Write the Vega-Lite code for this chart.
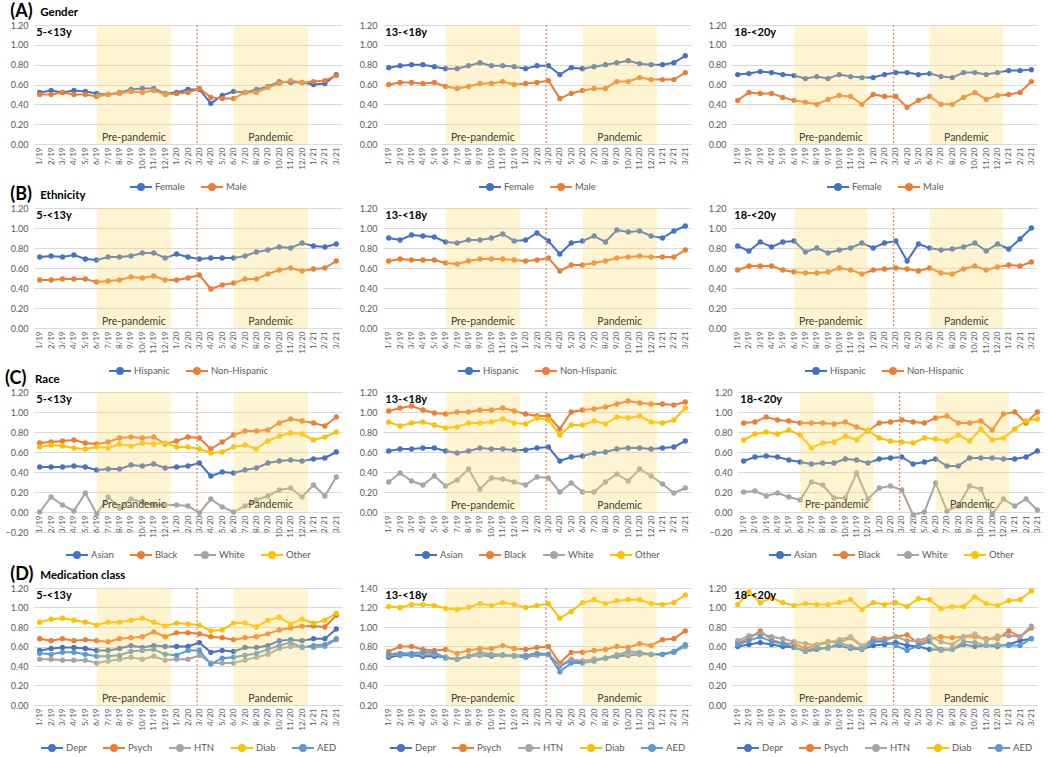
{
"$schema":"https://vega.github.io/schema/vega-lite/v6.json",
"padding":{"left":4,"top":2,"right":4,"bottom":2},
"background":"white",
"datasets":{
"shade":[{"a":5,"b":11.5,"lab":"Pre-pandemic"},{"a":17,"b":23.5,"lab":"Pandemic"}],
"A1":[
{"t":0,"s":"Female","v":0.52},{"t":1,"s":"Female","v":0.54},{"t":2,"s":"Female","v":0.52},{"t":3,"s":"Female","v":0.54},{"t":4,"s":"Female","v":0.53},{"t":5,"s":"Female","v":0.51},{"t":6,"s":"Female","v":0.50},{"t":7,"s":"Female","v":0.52},{"t":8,"s":"Female","v":0.55},{"t":9,"s":"Female","v":0.56},{"t":10,"s":"Female","v":0.56},{"t":11,"s":"Female","v":0.51},{"t":12,"s":"Female","v":0.52},{"t":13,"s":"Female","v":0.55},{"t":14,"s":"Female","v":0.55},{"t":15,"s":"Female","v":0.41},{"t":16,"s":"Female","v":0.49},{"t":17,"s":"Female","v":0.53},{"t":18,"s":"Female","v":0.52},{"t":19,"s":"Female","v":0.55},{"t":20,"s":"Female","v":0.58},{"t":21,"s":"Female","v":0.63},{"t":22,"s":"Female","v":0.62},{"t":23,"s":"Female","v":0.62},{"t":24,"s":"Female","v":0.60},{"t":25,"s":"Female","v":0.61},{"t":26,"s":"Female","v":0.70},
{"t":0,"s":"Male","v":0.50},{"t":1,"s":"Male","v":0.50},{"t":2,"s":"Male","v":0.52},{"t":3,"s":"Male","v":0.50},{"t":4,"s":"Male","v":0.50},{"t":5,"s":"Male","v":0.48},{"t":6,"s":"Male","v":0.50},{"t":7,"s":"Male","v":0.51},{"t":8,"s":"Male","v":0.53},{"t":9,"s":"Male","v":0.52},{"t":10,"s":"Male","v":0.54},{"t":11,"s":"Male","v":0.50},{"t":12,"s":"Male","v":0.51},{"t":13,"s":"Male","v":0.52},{"t":14,"s":"Male","v":0.56},{"t":15,"s":"Male","v":0.47},{"t":16,"s":"Male","v":0.46},{"t":17,"s":"Male","v":0.46},{"t":18,"s":"Male","v":0.52},{"t":19,"s":"Male","v":0.52},{"t":20,"s":"Male","v":0.57},{"t":21,"s":"Male","v":0.61},{"t":22,"s":"Male","v":0.64},{"t":23,"s":"Male","v":0.62},{"t":24,"s":"Male","v":0.63},{"t":25,"s":"Male","v":0.64},{"t":26,"s":"Male","v":0.69}],
"A2":[
{"t":0,"s":"Female","v":0.77},{"t":1,"s":"Female","v":0.79},{"t":2,"s":"Female","v":0.80},{"t":3,"s":"Female","v":0.80},{"t":4,"s":"Female","v":0.78},{"t":5,"s":"Female","v":0.76},{"t":6,"s":"Female","v":0.76},{"t":7,"s":"Female","v":0.79},{"t":8,"s":"Female","v":0.82},{"t":9,"s":"Female","v":0.79},{"t":10,"s":"Female","v":0.79},{"t":11,"s":"Female","v":0.78},{"t":12,"s":"Female","v":0.76},{"t":13,"s":"Female","v":0.79},{"t":14,"s":"Female","v":0.79},{"t":15,"s":"Female","v":0.70},{"t":16,"s":"Female","v":0.77},{"t":17,"s":"Female","v":0.76},{"t":18,"s":"Female","v":0.78},{"t":19,"s":"Female","v":0.80},{"t":20,"s":"Female","v":0.82},{"t":21,"s":"Female","v":0.84},{"t":22,"s":"Female","v":0.81},{"t":23,"s":"Female","v":0.80},{"t":24,"s":"Female","v":0.80},{"t":25,"s":"Female","v":0.82},{"t":26,"s":"Female","v":0.89},
{"t":0,"s":"Male","v":0.60},{"t":1,"s":"Male","v":0.62},{"t":2,"s":"Male","v":0.62},{"t":3,"s":"Male","v":0.61},{"t":4,"s":"Male","v":0.62},{"t":5,"s":"Male","v":0.58},{"t":6,"s":"Male","v":0.56},{"t":7,"s":"Male","v":0.58},{"t":8,"s":"Male","v":0.61},{"t":9,"s":"Male","v":0.61},{"t":10,"s":"Male","v":0.63},{"t":11,"s":"Male","v":0.60},{"t":12,"s":"Male","v":0.61},{"t":13,"s":"Male","v":0.62},{"t":14,"s":"Male","v":0.64},{"t":15,"s":"Male","v":0.46},{"t":16,"s":"Male","v":0.51},{"t":17,"s":"Male","v":0.54},{"t":18,"s":"Male","v":0.56},{"t":19,"s":"Male","v":0.56},{"t":20,"s":"Male","v":0.63},{"t":21,"s":"Male","v":0.63},{"t":22,"s":"Male","v":0.67},{"t":23,"s":"Male","v":0.65},{"t":24,"s":"Male","v":0.65},{"t":25,"s":"Male","v":0.65},{"t":26,"s":"Male","v":0.72}],
"A3":[
{"t":0,"s":"Female","v":0.70},{"t":1,"s":"Female","v":0.71},{"t":2,"s":"Female","v":0.73},{"t":3,"s":"Female","v":0.72},{"t":4,"s":"Female","v":0.70},{"t":5,"s":"Female","v":0.69},{"t":6,"s":"Female","v":0.66},{"t":7,"s":"Female","v":0.68},{"t":8,"s":"Female","v":0.66},{"t":9,"s":"Female","v":0.70},{"t":10,"s":"Female","v":0.68},{"t":11,"s":"Female","v":0.67},{"t":12,"s":"Female","v":0.67},{"t":13,"s":"Female","v":0.70},{"t":14,"s":"Female","v":0.72},{"t":15,"s":"Female","v":0.72},{"t":16,"s":"Female","v":0.70},{"t":17,"s":"Female","v":0.71},{"t":18,"s":"Female","v":0.68},{"t":19,"s":"Female","v":0.67},{"t":20,"s":"Female","v":0.72},{"t":21,"s":"Female","v":0.72},{"t":22,"s":"Female","v":0.70},{"t":23,"s":"Female","v":0.72},{"t":24,"s":"Female","v":0.74},{"t":25,"s":"Female","v":0.74},{"t":26,"s":"Female","v":0.75},
{"t":0,"s":"Male","v":0.44},{"t":1,"s":"Male","v":0.52},{"t":2,"s":"Male","v":0.51},{"t":3,"s":"Male","v":0.51},{"t":4,"s":"Male","v":0.47},{"t":5,"s":"Male","v":0.44},{"t":6,"s":"Male","v":0.42},{"t":7,"s":"Male","v":0.40},{"t":8,"s":"Male","v":0.45},{"t":9,"s":"Male","v":0.49},{"t":10,"s":"Male","v":0.48},{"t":11,"s":"Male","v":0.40},{"t":12,"s":"Male","v":0.50},{"t":13,"s":"Male","v":0.48},{"t":14,"s":"Male","v":0.48},{"t":15,"s":"Male","v":0.37},{"t":16,"s":"Male","v":0.44},{"t":17,"s":"Male","v":0.48},{"t":18,"s":"Male","v":0.40},{"t":19,"s":"Male","v":0.40},{"t":20,"s":"Male","v":0.47},{"t":21,"s":"Male","v":0.52},{"t":22,"s":"Male","v":0.45},{"t":23,"s":"Male","v":0.49},{"t":24,"s":"Male","v":0.50},{"t":25,"s":"Male","v":0.52},{"t":26,"s":"Male","v":0.63}],
"B1":[
{"t":0,"s":"Hispanic","v":0.71},{"t":1,"s":"Hispanic","v":0.72},{"t":2,"s":"Hispanic","v":0.71},{"t":3,"s":"Hispanic","v":0.73},{"t":4,"s":"Hispanic","v":0.69},{"t":5,"s":"Hispanic","v":0.68},{"t":6,"s":"Hispanic","v":0.71},{"t":7,"s":"Hispanic","v":0.71},{"t":8,"s":"Hispanic","v":0.72},{"t":9,"s":"Hispanic","v":0.75},{"t":10,"s":"Hispanic","v":0.75},{"t":11,"s":"Hispanic","v":0.70},{"t":12,"s":"Hispanic","v":0.74},{"t":13,"s":"Hispanic","v":0.71},{"t":14,"s":"Hispanic","v":0.69},{"t":15,"s":"Hispanic","v":0.70},{"t":16,"s":"Hispanic","v":0.70},{"t":17,"s":"Hispanic","v":0.70},{"t":18,"s":"Hispanic","v":0.72},{"t":19,"s":"Hispanic","v":0.76},{"t":20,"s":"Hispanic","v":0.78},{"t":21,"s":"Hispanic","v":0.81},{"t":22,"s":"Hispanic","v":0.80},{"t":23,"s":"Hispanic","v":0.85},{"t":24,"s":"Hispanic","v":0.82},{"t":25,"s":"Hispanic","v":0.81},{"t":26,"s":"Hispanic","v":0.84},
{"t":0,"s":"Non-Hispanic","v":0.48},{"t":1,"s":"Non-Hispanic","v":0.48},{"t":2,"s":"Non-Hispanic","v":0.49},{"t":3,"s":"Non-Hispanic","v":0.49},{"t":4,"s":"Non-Hispanic","v":0.49},{"t":5,"s":"Non-Hispanic","v":0.46},{"t":6,"s":"Non-Hispanic","v":0.47},{"t":7,"s":"Non-Hispanic","v":0.48},{"t":8,"s":"Non-Hispanic","v":0.51},{"t":9,"s":"Non-Hispanic","v":0.50},{"t":10,"s":"Non-Hispanic","v":0.52},{"t":11,"s":"Non-Hispanic","v":0.48},{"t":12,"s":"Non-Hispanic","v":0.48},{"t":13,"s":"Non-Hispanic","v":0.50},{"t":14,"s":"Non-Hispanic","v":0.53},{"t":15,"s":"Non-Hispanic","v":0.39},{"t":16,"s":"Non-Hispanic","v":0.43},{"t":17,"s":"Non-Hispanic","v":0.45},{"t":18,"s":"Non-Hispanic","v":0.49},{"t":19,"s":"Non-Hispanic","v":0.49},{"t":20,"s":"Non-Hispanic","v":0.54},{"t":21,"s":"Non-Hispanic","v":0.58},{"t":22,"s":"Non-Hispanic","v":0.60},{"t":23,"s":"Non-Hispanic","v":0.57},{"t":24,"s":"Non-Hispanic","v":0.59},{"t":25,"s":"Non-Hispanic","v":0.60},{"t":26,"s":"Non-Hispanic","v":0.67}],
"B2":[
{"t":0,"s":"Hispanic","v":0.90},{"t":1,"s":"Hispanic","v":0.88},{"t":2,"s":"Hispanic","v":0.93},{"t":3,"s":"Hispanic","v":0.92},{"t":4,"s":"Hispanic","v":0.91},{"t":5,"s":"Hispanic","v":0.86},{"t":6,"s":"Hispanic","v":0.85},{"t":7,"s":"Hispanic","v":0.88},{"t":8,"s":"Hispanic","v":0.88},{"t":9,"s":"Hispanic","v":0.90},{"t":10,"s":"Hispanic","v":0.94},{"t":11,"s":"Hispanic","v":0.87},{"t":12,"s":"Hispanic","v":0.88},{"t":13,"s":"Hispanic","v":0.95},{"t":14,"s":"Hispanic","v":0.87},{"t":15,"s":"Hispanic","v":0.74},{"t":16,"s":"Hispanic","v":0.85},{"t":17,"s":"Hispanic","v":0.87},{"t":18,"s":"Hispanic","v":0.92},{"t":19,"s":"Hispanic","v":0.86},{"t":20,"s":"Hispanic","v":0.98},{"t":21,"s":"Hispanic","v":0.96},{"t":22,"s":"Hispanic","v":0.97},{"t":23,"s":"Hispanic","v":0.92},{"t":24,"s":"Hispanic","v":0.90},{"t":25,"s":"Hispanic","v":0.97},{"t":26,"s":"Hispanic","v":1.02},
{"t":0,"s":"Non-Hispanic","v":0.67},{"t":1,"s":"Non-Hispanic","v":0.69},{"t":2,"s":"Non-Hispanic","v":0.68},{"t":3,"s":"Non-Hispanic","v":0.68},{"t":4,"s":"Non-Hispanic","v":0.68},{"t":5,"s":"Non-Hispanic","v":0.65},{"t":6,"s":"Non-Hispanic","v":0.64},{"t":7,"s":"Non-Hispanic","v":0.67},{"t":8,"s":"Non-Hispanic","v":0.69},{"t":9,"s":"Non-Hispanic","v":0.69},{"t":10,"s":"Non-Hispanic","v":0.69},{"t":11,"s":"Non-Hispanic","v":0.68},{"t":12,"s":"Non-Hispanic","v":0.67},{"t":13,"s":"Non-Hispanic","v":0.68},{"t":14,"s":"Non-Hispanic","v":0.70},{"t":15,"s":"Non-Hispanic","v":0.57},{"t":16,"s":"Non-Hispanic","v":0.63},{"t":17,"s":"Non-Hispanic","v":0.63},{"t":18,"s":"Non-Hispanic","v":0.65},{"t":19,"s":"Non-Hispanic","v":0.67},{"t":20,"s":"Non-Hispanic","v":0.70},{"t":21,"s":"Non-Hispanic","v":0.71},{"t":22,"s":"Non-Hispanic","v":0.72},{"t":23,"s":"Non-Hispanic","v":0.71},{"t":24,"s":"Non-Hispanic","v":0.71},{"t":25,"s":"Non-Hispanic","v":0.71},{"t":26,"s":"Non-Hispanic","v":0.78}],
"B3":[
{"t":0,"s":"Hispanic","v":0.82},{"t":1,"s":"Hispanic","v":0.77},{"t":2,"s":"Hispanic","v":0.86},{"t":3,"s":"Hispanic","v":0.81},{"t":4,"s":"Hispanic","v":0.86},{"t":5,"s":"Hispanic","v":0.87},{"t":6,"s":"Hispanic","v":0.76},{"t":7,"s":"Hispanic","v":0.80},{"t":8,"s":"Hispanic","v":0.75},{"t":9,"s":"Hispanic","v":0.78},{"t":10,"s":"Hispanic","v":0.80},{"t":11,"s":"Hispanic","v":0.85},{"t":12,"s":"Hispanic","v":0.80},{"t":13,"s":"Hispanic","v":0.85},{"t":14,"s":"Hispanic","v":0.87},{"t":15,"s":"Hispanic","v":0.67},{"t":16,"s":"Hispanic","v":0.84},{"t":17,"s":"Hispanic","v":0.80},{"t":18,"s":"Hispanic","v":0.78},{"t":19,"s":"Hispanic","v":0.79},{"t":20,"s":"Hispanic","v":0.81},{"t":21,"s":"Hispanic","v":0.85},{"t":22,"s":"Hispanic","v":0.77},{"t":23,"s":"Hispanic","v":0.84},{"t":24,"s":"Hispanic","v":0.79},{"t":25,"s":"Hispanic","v":0.89},{"t":26,"s":"Hispanic","v":1.00},
{"t":0,"s":"Non-Hispanic","v":0.58},{"t":1,"s":"Non-Hispanic","v":0.62},{"t":2,"s":"Non-Hispanic","v":0.62},{"t":3,"s":"Non-Hispanic","v":0.62},{"t":4,"s":"Non-Hispanic","v":0.58},{"t":5,"s":"Non-Hispanic","v":0.56},{"t":6,"s":"Non-Hispanic","v":0.55},{"t":7,"s":"Non-Hispanic","v":0.55},{"t":8,"s":"Non-Hispanic","v":0.56},{"t":9,"s":"Non-Hispanic","v":0.60},{"t":10,"s":"Non-Hispanic","v":0.58},{"t":11,"s":"Non-Hispanic","v":0.54},{"t":12,"s":"Non-Hispanic","v":0.58},{"t":13,"s":"Non-Hispanic","v":0.59},{"t":14,"s":"Non-Hispanic","v":0.60},{"t":15,"s":"Non-Hispanic","v":0.59},{"t":16,"s":"Non-Hispanic","v":0.57},{"t":17,"s":"Non-Hispanic","v":0.60},{"t":18,"s":"Non-Hispanic","v":0.55},{"t":19,"s":"Non-Hispanic","v":0.54},{"t":20,"s":"Non-Hispanic","v":0.59},{"t":21,"s":"Non-Hispanic","v":0.62},{"t":22,"s":"Non-Hispanic","v":0.58},{"t":23,"s":"Non-Hispanic","v":0.61},{"t":24,"s":"Non-Hispanic","v":0.63},{"t":25,"s":"Non-Hispanic","v":0.62},{"t":26,"s":"Non-Hispanic","v":0.66}],
"C1":[
{"t":0,"s":"Asian","v":0.45},{"t":1,"s":"Asian","v":0.45},{"t":2,"s":"Asian","v":0.45},{"t":3,"s":"Asian","v":0.46},{"t":4,"s":"Asian","v":0.45},{"t":5,"s":"Asian","v":0.42},{"t":6,"s":"Asian","v":0.43},{"t":7,"s":"Asian","v":0.43},{"t":8,"s":"Asian","v":0.47},{"t":9,"s":"Asian","v":0.46},{"t":10,"s":"Asian","v":0.48},{"t":11,"s":"Asian","v":0.44},{"t":12,"s":"Asian","v":0.45},{"t":13,"s":"Asian","v":0.46},{"t":14,"s":"Asian","v":0.49},{"t":15,"s":"Asian","v":0.36},{"t":16,"s":"Asian","v":0.40},{"t":17,"s":"Asian","v":0.39},{"t":18,"s":"Asian","v":0.42},{"t":19,"s":"Asian","v":0.44},{"t":20,"s":"Asian","v":0.49},{"t":21,"s":"Asian","v":0.51},{"t":22,"s":"Asian","v":0.52},{"t":23,"s":"Asian","v":0.51},{"t":24,"s":"Asian","v":0.53},{"t":25,"s":"Asian","v":0.54},{"t":26,"s":"Asian","v":0.60},
{"t":0,"s":"Black","v":0.69},{"t":1,"s":"Black","v":0.70},{"t":2,"s":"Black","v":0.71},{"t":3,"s":"Black","v":0.72},{"t":4,"s":"Black","v":0.69},{"t":5,"s":"Black","v":0.68},{"t":6,"s":"Black","v":0.70},{"t":7,"s":"Black","v":0.74},{"t":8,"s":"Black","v":0.75},{"t":9,"s":"Black","v":0.74},{"t":10,"s":"Black","v":0.75},{"t":11,"s":"Black","v":0.68},{"t":12,"s":"Black","v":0.71},{"t":13,"s":"Black","v":0.75},{"t":14,"s":"Black","v":0.74},{"t":15,"s":"Black","v":0.63},{"t":16,"s":"Black","v":0.70},{"t":17,"s":"Black","v":0.77},{"t":18,"s":"Black","v":0.81},{"t":19,"s":"Black","v":0.81},{"t":20,"s":"Black","v":0.82},{"t":21,"s":"Black","v":0.89},{"t":22,"s":"Black","v":0.93},{"t":23,"s":"Black","v":0.91},{"t":24,"s":"Black","v":0.89},{"t":25,"s":"Black","v":0.86},{"t":26,"s":"Black","v":0.95},
{"t":0,"s":"White","v":0.00},{"t":1,"s":"White","v":0.15},{"t":2,"s":"White","v":0.07},{"t":3,"s":"White","v":0.01},{"t":4,"s":"White","v":0.19},{"t":5,"s":"White","v":-0.02},{"t":6,"s":"White","v":0.15},{"t":7,"s":"White","v":0.04},{"t":8,"s":"White","v":0.13},{"t":9,"s":"White","v":0.10},{"t":10,"s":"White","v":0.07},{"t":11,"s":"White","v":0.07},{"t":12,"s":"White","v":0.07},{"t":13,"s":"White","v":0.06},{"t":14,"s":"White","v":-0.01},{"t":15,"s":"White","v":0.13},{"t":16,"s":"White","v":0.05},{"t":17,"s":"White","v":0.00},{"t":18,"s":"White","v":0.06},{"t":19,"s":"White","v":0.12},{"t":20,"s":"White","v":0.16},{"t":21,"s":"White","v":0.22},{"t":22,"s":"White","v":0.24},{"t":23,"s":"White","v":0.15},{"t":24,"s":"White","v":0.27},{"t":25,"s":"White","v":0.16},{"t":26,"s":"White","v":0.35},
{"t":0,"s":"Other","v":0.65},{"t":1,"s":"Other","v":0.67},{"t":2,"s":"Other","v":0.66},{"t":3,"s":"Other","v":0.64},{"t":4,"s":"Other","v":0.63},{"t":5,"s":"Other","v":0.65},{"t":6,"s":"Other","v":0.64},{"t":7,"s":"Other","v":0.68},{"t":8,"s":"Other","v":0.66},{"t":9,"s":"Other","v":0.69},{"t":10,"s":"Other","v":0.68},{"t":11,"s":"Other","v":0.69},{"t":12,"s":"Other","v":0.65},{"t":13,"s":"Other","v":0.65},{"t":14,"s":"Other","v":0.63},{"t":15,"s":"Other","v":0.59},{"t":16,"s":"Other","v":0.60},{"t":17,"s":"Other","v":0.65},{"t":18,"s":"Other","v":0.67},{"t":19,"s":"Other","v":0.63},{"t":20,"s":"Other","v":0.71},{"t":21,"s":"Other","v":0.76},{"t":22,"s":"Other","v":0.79},{"t":23,"s":"Other","v":0.78},{"t":24,"s":"Other","v":0.72},{"t":25,"s":"Other","v":0.75},{"t":26,"s":"Other","v":0.80}],
"C2":[
{"t":0,"s":"Asian","v":0.61},{"t":1,"s":"Asian","v":0.63},{"t":2,"s":"Asian","v":0.63},{"t":3,"s":"Asian","v":0.64},{"t":4,"s":"Asian","v":0.64},{"t":5,"s":"Asian","v":0.61},{"t":6,"s":"Asian","v":0.59},{"t":7,"s":"Asian","v":0.61},{"t":8,"s":"Asian","v":0.64},{"t":9,"s":"Asian","v":0.63},{"t":10,"s":"Asian","v":0.63},{"t":11,"s":"Asian","v":0.62},{"t":12,"s":"Asian","v":0.62},{"t":13,"s":"Asian","v":0.64},{"t":14,"s":"Asian","v":0.65},{"t":15,"s":"Asian","v":0.51},{"t":16,"s":"Asian","v":0.55},{"t":17,"s":"Asian","v":0.56},{"t":18,"s":"Asian","v":0.59},{"t":19,"s":"Asian","v":0.60},{"t":20,"s":"Asian","v":0.63},{"t":21,"s":"Asian","v":0.64},{"t":22,"s":"Asian","v":0.64},{"t":23,"s":"Asian","v":0.63},{"t":24,"s":"Asian","v":0.64},{"t":25,"s":"Asian","v":0.65},{"t":26,"s":"Asian","v":0.71},
{"t":0,"s":"Black","v":1.01},{"t":1,"s":"Black","v":1.04},{"t":2,"s":"Black","v":1.06},{"t":3,"s":"Black","v":1.02},{"t":4,"s":"Black","v":0.99},{"t":5,"s":"Black","v":0.98},{"t":6,"s":"Black","v":1.00},{"t":7,"s":"Black","v":1.00},{"t":8,"s":"Black","v":1.02},{"t":9,"s":"Black","v":1.02},{"t":10,"s":"Black","v":1.04},{"t":11,"s":"Black","v":1.01},{"t":12,"s":"Black","v":0.98},{"t":13,"s":"Black","v":0.96},{"t":14,"s":"Black","v":0.96},{"t":15,"s":"Black","v":0.83},{"t":16,"s":"Black","v":1.00},{"t":17,"s":"Black","v":1.02},{"t":18,"s":"Black","v":1.03},{"t":19,"s":"Black","v":1.05},{"t":20,"s":"Black","v":1.08},{"t":21,"s":"Black","v":1.11},{"t":22,"s":"Black","v":1.09},{"t":23,"s":"Black","v":1.08},{"t":24,"s":"Black","v":1.08},{"t":25,"s":"Black","v":1.07},{"t":26,"s":"Black","v":1.10},
{"t":0,"s":"White","v":0.30},{"t":1,"s":"White","v":0.39},{"t":2,"s":"White","v":0.31},{"t":3,"s":"White","v":0.27},{"t":4,"s":"White","v":0.36},{"t":5,"s":"White","v":0.26},{"t":6,"s":"White","v":0.32},{"t":7,"s":"White","v":0.43},{"t":8,"s":"White","v":0.23},{"t":9,"s":"White","v":0.34},{"t":10,"s":"White","v":0.33},{"t":11,"s":"White","v":0.30},{"t":12,"s":"White","v":0.27},{"t":13,"s":"White","v":0.35},{"t":14,"s":"White","v":0.34},{"t":15,"s":"White","v":0.20},{"t":16,"s":"White","v":0.29},{"t":17,"s":"White","v":0.20},{"t":18,"s":"White","v":0.20},{"t":19,"s":"White","v":0.30},{"t":20,"s":"White","v":0.38},{"t":21,"s":"White","v":0.31},{"t":22,"s":"White","v":0.43},{"t":23,"s":"White","v":0.36},{"t":24,"s":"White","v":0.28},{"t":25,"s":"White","v":0.19},{"t":26,"s":"White","v":0.24},
{"t":0,"s":"Other","v":0.90},{"t":1,"s":"Other","v":0.86},{"t":2,"s":"Other","v":0.89},{"t":3,"s":"Other","v":0.90},{"t":4,"s":"Other","v":0.87},{"t":5,"s":"Other","v":0.84},{"t":6,"s":"Other","v":0.85},{"t":7,"s":"Other","v":0.89},{"t":8,"s":"Other","v":0.89},{"t":9,"s":"Other","v":0.90},{"t":10,"s":"Other","v":0.93},{"t":11,"s":"Other","v":0.89},{"t":12,"s":"Other","v":0.88},{"t":13,"s":"Other","v":0.94},{"t":14,"s":"Other","v":0.92},{"t":15,"s":"Other","v":0.77},{"t":16,"s":"Other","v":0.87},{"t":17,"s":"Other","v":0.87},{"t":18,"s":"Other","v":0.91},{"t":19,"s":"Other","v":0.88},{"t":20,"s":"Other","v":0.95},{"t":21,"s":"Other","v":0.94},{"t":22,"s":"Other","v":0.96},{"t":23,"s":"Other","v":0.90},{"t":24,"s":"Other","v":0.89},{"t":25,"s":"Other","v":0.92},{"t":26,"s":"Other","v":1.04}],
"C3":[
{"t":0,"s":"Asian","v":0.51},{"t":1,"s":"Asian","v":0.55},{"t":2,"s":"Asian","v":0.56},{"t":3,"s":"Asian","v":0.55},{"t":4,"s":"Asian","v":0.52},{"t":5,"s":"Asian","v":0.50},{"t":6,"s":"Asian","v":0.48},{"t":7,"s":"Asian","v":0.49},{"t":8,"s":"Asian","v":0.49},{"t":9,"s":"Asian","v":0.53},{"t":10,"s":"Asian","v":0.52},{"t":11,"s":"Asian","v":0.49},{"t":12,"s":"Asian","v":0.53},{"t":13,"s":"Asian","v":0.54},{"t":14,"s":"Asian","v":0.55},{"t":15,"s":"Asian","v":0.48},{"t":16,"s":"Asian","v":0.50},{"t":17,"s":"Asian","v":0.53},{"t":18,"s":"Asian","v":0.46},{"t":19,"s":"Asian","v":0.46},{"t":20,"s":"Asian","v":0.54},{"t":21,"s":"Asian","v":0.54},{"t":22,"s":"Asian","v":0.54},{"t":23,"s":"Asian","v":0.53},{"t":24,"s":"Asian","v":0.53},{"t":25,"s":"Asian","v":0.55},{"t":26,"s":"Asian","v":0.61},
{"t":0,"s":"Black","v":0.89},{"t":1,"s":"Black","v":0.90},{"t":2,"s":"Black","v":0.95},{"t":3,"s":"Black","v":0.92},{"t":4,"s":"Black","v":0.91},{"t":5,"s":"Black","v":0.89},{"t":6,"s":"Black","v":0.89},{"t":7,"s":"Black","v":0.89},{"t":8,"s":"Black","v":0.88},{"t":9,"s":"Black","v":0.90},{"t":10,"s":"Black","v":0.85},{"t":11,"s":"Black","v":0.81},{"t":12,"s":"Black","v":0.89},{"t":13,"s":"Black","v":0.90},{"t":14,"s":"Black","v":0.92},{"t":15,"s":"Black","v":0.90},{"t":16,"s":"Black","v":0.89},{"t":17,"s":"Black","v":0.94},{"t":18,"s":"Black","v":0.96},{"t":19,"s":"Black","v":0.89},{"t":20,"s":"Black","v":0.89},{"t":21,"s":"Black","v":0.91},{"t":22,"s":"Black","v":0.82},{"t":23,"s":"Black","v":0.98},{"t":24,"s":"Black","v":1.00},{"t":25,"s":"Black","v":0.89},{"t":26,"s":"Black","v":1.00},
{"t":0,"s":"White","v":0.20},{"t":1,"s":"White","v":0.21},{"t":2,"s":"White","v":0.16},{"t":3,"s":"White","v":0.19},{"t":4,"s":"White","v":0.15},{"t":5,"s":"White","v":0.12},{"t":6,"s":"White","v":0.30},{"t":7,"s":"White","v":0.27},{"t":8,"s":"White","v":0.14},{"t":9,"s":"White","v":0.14},{"t":10,"s":"White","v":0.39},{"t":11,"s":"White","v":0.13},{"t":12,"s":"White","v":0.24},{"t":13,"s":"White","v":0.26},{"t":14,"s":"White","v":0.22},{"t":15,"s":"White","v":-0.03},{"t":16,"s":"White","v":0.00},{"t":17,"s":"White","v":0.29},{"t":18,"s":"White","v":0.01},{"t":19,"s":"White","v":0.06},{"t":20,"s":"White","v":0.26},{"t":21,"s":"White","v":0.23},{"t":22,"s":"White","v":-0.02},{"t":23,"s":"White","v":0.13},{"t":24,"s":"White","v":0.06},{"t":25,"s":"White","v":0.13},{"t":26,"s":"White","v":0.02},
{"t":0,"s":"Other","v":0.72},{"t":1,"s":"Other","v":0.78},{"t":2,"s":"Other","v":0.80},{"t":3,"s":"Other","v":0.78},{"t":4,"s":"Other","v":0.82},{"t":5,"s":"Other","v":0.77},{"t":6,"s":"Other","v":0.64},{"t":7,"s":"Other","v":0.69},{"t":8,"s":"Other","v":0.70},{"t":9,"s":"Other","v":0.76},{"t":10,"s":"Other","v":0.72},{"t":11,"s":"Other","v":0.82},{"t":12,"s":"Other","v":0.74},{"t":13,"s":"Other","v":0.71},{"t":14,"s":"Other","v":0.70},{"t":15,"s":"Other","v":0.69},{"t":16,"s":"Other","v":0.74},{"t":17,"s":"Other","v":0.73},{"t":18,"s":"Other","v":0.71},{"t":19,"s":"Other","v":0.77},{"t":20,"s":"Other","v":0.71},{"t":21,"s":"Other","v":0.83},{"t":22,"s":"Other","v":0.72},{"t":23,"s":"Other","v":0.74},{"t":24,"s":"Other","v":0.83},{"t":25,"s":"Other","v":0.91},{"t":26,"s":"Other","v":0.93}],
"D1":[
{"t":0,"s":"Depr","v":0.56},{"t":1,"s":"Depr","v":0.58},{"t":2,"s":"Depr","v":0.59},{"t":3,"s":"Depr","v":0.59},{"t":4,"s":"Depr","v":0.58},{"t":5,"s":"Depr","v":0.56},{"t":6,"s":"Depr","v":0.56},{"t":7,"s":"Depr","v":0.58},{"t":8,"s":"Depr","v":0.61},{"t":9,"s":"Depr","v":0.59},{"t":10,"s":"Depr","v":0.61},{"t":11,"s":"Depr","v":0.60},{"t":12,"s":"Depr","v":0.60},{"t":13,"s":"Depr","v":0.60},{"t":14,"s":"Depr","v":0.64},{"t":15,"s":"Depr","v":0.54},{"t":16,"s":"Depr","v":0.56},{"t":17,"s":"Depr","v":0.55},{"t":18,"s":"Depr","v":0.59},{"t":19,"s":"Depr","v":0.59},{"t":20,"s":"Depr","v":0.61},{"t":21,"s":"Depr","v":0.66},{"t":22,"s":"Depr","v":0.67},{"t":23,"s":"Depr","v":0.66},{"t":24,"s":"Depr","v":0.68},{"t":25,"s":"Depr","v":0.68},{"t":26,"s":"Depr","v":0.78},
{"t":0,"s":"Psych","v":0.68},{"t":1,"s":"Psych","v":0.66},{"t":2,"s":"Psych","v":0.68},{"t":3,"s":"Psych","v":0.66},{"t":4,"s":"Psych","v":0.67},{"t":5,"s":"Psych","v":0.66},{"t":6,"s":"Psych","v":0.65},{"t":7,"s":"Psych","v":0.68},{"t":8,"s":"Psych","v":0.69},{"t":9,"s":"Psych","v":0.70},{"t":10,"s":"Psych","v":0.75},{"t":11,"s":"Psych","v":0.70},{"t":12,"s":"Psych","v":0.74},{"t":13,"s":"Psych","v":0.74},{"t":14,"s":"Psych","v":0.73},{"t":15,"s":"Psych","v":0.70},{"t":16,"s":"Psych","v":0.69},{"t":17,"s":"Psych","v":0.67},{"t":18,"s":"Psych","v":0.69},{"t":19,"s":"Psych","v":0.70},{"t":20,"s":"Psych","v":0.73},{"t":21,"s":"Psych","v":0.77},{"t":22,"s":"Psych","v":0.79},{"t":23,"s":"Psych","v":0.81},{"t":24,"s":"Psych","v":0.81},{"t":25,"s":"Psych","v":0.80},{"t":26,"s":"Psych","v":0.92},
{"t":0,"s":"HTN","v":0.47},{"t":1,"s":"HTN","v":0.47},{"t":2,"s":"HTN","v":0.46},{"t":3,"s":"HTN","v":0.46},{"t":4,"s":"HTN","v":0.46},{"t":5,"s":"HTN","v":0.43},{"t":6,"s":"HTN","v":0.45},{"t":7,"s":"HTN","v":0.47},{"t":8,"s":"HTN","v":0.49},{"t":9,"s":"HTN","v":0.47},{"t":10,"s":"HTN","v":0.50},{"t":11,"s":"HTN","v":0.46},{"t":12,"s":"HTN","v":0.47},{"t":13,"s":"HTN","v":0.47},{"t":14,"s":"HTN","v":0.51},{"t":15,"s":"HTN","v":0.43},{"t":16,"s":"HTN","v":0.43},{"t":17,"s":"HTN","v":0.43},{"t":18,"s":"HTN","v":0.46},{"t":19,"s":"HTN","v":0.49},{"t":20,"s":"HTN","v":0.52},{"t":21,"s":"HTN","v":0.58},{"t":22,"s":"HTN","v":0.60},{"t":23,"s":"HTN","v":0.60},{"t":24,"s":"HTN","v":0.59},{"t":25,"s":"HTN","v":0.60},{"t":26,"s":"HTN","v":0.67},
{"t":0,"s":"Diab","v":0.85},{"t":1,"s":"Diab","v":0.88},{"t":2,"s":"Diab","v":0.89},{"t":3,"s":"Diab","v":0.87},{"t":4,"s":"Diab","v":0.85},{"t":5,"s":"Diab","v":0.82},{"t":6,"s":"Diab","v":0.85},{"t":7,"s":"Diab","v":0.85},{"t":8,"s":"Diab","v":0.87},{"t":9,"s":"Diab","v":0.89},{"t":10,"s":"Diab","v":0.85},{"t":11,"s":"Diab","v":0.81},{"t":12,"s":"Diab","v":0.84},{"t":13,"s":"Diab","v":0.83},{"t":14,"s":"Diab","v":0.82},{"t":15,"s":"Diab","v":0.76},{"t":16,"s":"Diab","v":0.77},{"t":17,"s":"Diab","v":0.84},{"t":18,"s":"Diab","v":0.84},{"t":19,"s":"Diab","v":0.80},{"t":20,"s":"Diab","v":0.87},{"t":21,"s":"Diab","v":0.90},{"t":22,"s":"Diab","v":0.83},{"t":23,"s":"Diab","v":0.88},{"t":24,"s":"Diab","v":0.84},{"t":25,"s":"Diab","v":0.87},{"t":26,"s":"Diab","v":0.94},
{"t":0,"s":"AED","v":0.53},{"t":1,"s":"AED","v":0.52},{"t":2,"s":"AED","v":0.54},{"t":3,"s":"AED","v":0.54},{"t":4,"s":"AED","v":0.52},{"t":5,"s":"AED","v":0.50},{"t":6,"s":"AED","v":0.50},{"t":7,"s":"AED","v":0.51},{"t":8,"s":"AED","v":0.55},{"t":9,"s":"AED","v":0.56},{"t":10,"s":"AED","v":0.57},{"t":11,"s":"AED","v":0.52},{"t":12,"s":"AED","v":0.51},{"t":13,"s":"AED","v":0.56},{"t":14,"s":"AED","v":0.56},{"t":15,"s":"AED","v":0.42},{"t":16,"s":"AED","v":0.48},{"t":17,"s":"AED","v":0.49},{"t":18,"s":"AED","v":0.51},{"t":19,"s":"AED","v":0.53},{"t":20,"s":"AED","v":0.57},{"t":21,"s":"AED","v":0.61},{"t":22,"s":"AED","v":0.64},{"t":23,"s":"AED","v":0.59},{"t":24,"s":"AED","v":0.61},{"t":25,"s":"AED","v":0.62},{"t":26,"s":"AED","v":0.68}],
"D2":[
{"t":0,"s":"Depr","v":0.69},{"t":1,"s":"Depr","v":0.71},{"t":2,"s":"Depr","v":0.71},{"t":3,"s":"Depr","v":0.70},{"t":4,"s":"Depr","v":0.70},{"t":5,"s":"Depr","v":0.69},{"t":6,"s":"Depr","v":0.67},{"t":7,"s":"Depr","v":0.70},{"t":8,"s":"Depr","v":0.71},{"t":9,"s":"Depr","v":0.70},{"t":10,"s":"Depr","v":0.71},{"t":11,"s":"Depr","v":0.70},{"t":12,"s":"Depr","v":0.69},{"t":13,"s":"Depr","v":0.71},{"t":14,"s":"Depr","v":0.72},{"t":15,"s":"Depr","v":0.60},{"t":16,"s":"Depr","v":0.66},{"t":17,"s":"Depr","v":0.65},{"t":18,"s":"Depr","v":0.67},{"t":19,"s":"Depr","v":0.68},{"t":20,"s":"Depr","v":0.70},{"t":21,"s":"Depr","v":0.71},{"t":22,"s":"Depr","v":0.72},{"t":23,"s":"Depr","v":0.72},{"t":24,"s":"Depr","v":0.72},{"t":25,"s":"Depr","v":0.74},{"t":26,"s":"Depr","v":0.81},
{"t":0,"s":"Psych","v":0.75},{"t":1,"s":"Psych","v":0.80},{"t":2,"s":"Psych","v":0.80},{"t":3,"s":"Psych","v":0.77},{"t":4,"s":"Psych","v":0.76},{"t":5,"s":"Psych","v":0.77},{"t":6,"s":"Psych","v":0.73},{"t":7,"s":"Psych","v":0.76},{"t":8,"s":"Psych","v":0.78},{"t":9,"s":"Psych","v":0.78},{"t":10,"s":"Psych","v":0.81},{"t":11,"s":"Psych","v":0.78},{"t":12,"s":"Psych","v":0.77},{"t":13,"s":"Psych","v":0.79},{"t":14,"s":"Psych","v":0.80},{"t":15,"s":"Psych","v":0.63},{"t":16,"s":"Psych","v":0.74},{"t":17,"s":"Psych","v":0.74},{"t":18,"s":"Psych","v":0.76},{"t":19,"s":"Psych","v":0.77},{"t":20,"s":"Psych","v":0.80},{"t":21,"s":"Psych","v":0.79},{"t":22,"s":"Psych","v":0.83},{"t":23,"s":"Psych","v":0.81},{"t":24,"s":"Psych","v":0.87},{"t":25,"s":"Psych","v":0.88},{"t":26,"s":"Psych","v":0.96},
{"t":0,"s":"HTN","v":0.71},{"t":1,"s":"HTN","v":0.72},{"t":2,"s":"HTN","v":0.72},{"t":3,"s":"HTN","v":0.72},{"t":4,"s":"HTN","v":0.72},{"t":5,"s":"HTN","v":0.69},{"t":6,"s":"HTN","v":0.67},{"t":7,"s":"HTN","v":0.70},{"t":8,"s":"HTN","v":0.72},{"t":9,"s":"HTN","v":0.72},{"t":10,"s":"HTN","v":0.72},{"t":11,"s":"HTN","v":0.70},{"t":12,"s":"HTN","v":0.70},{"t":13,"s":"HTN","v":0.71},{"t":14,"s":"HTN","v":0.72},{"t":15,"s":"HTN","v":0.61},{"t":16,"s":"HTN","v":0.67},{"t":17,"s":"HTN","v":0.65},{"t":18,"s":"HTN","v":0.67},{"t":19,"s":"HTN","v":0.68},{"t":20,"s":"HTN","v":0.72},{"t":21,"s":"HTN","v":0.72},{"t":22,"s":"HTN","v":0.73},{"t":23,"s":"HTN","v":0.72},{"t":24,"s":"HTN","v":0.72},{"t":25,"s":"HTN","v":0.74},{"t":26,"s":"HTN","v":0.80},
{"t":0,"s":"Diab","v":1.21},{"t":1,"s":"Diab","v":1.20},{"t":2,"s":"Diab","v":1.23},{"t":3,"s":"Diab","v":1.23},{"t":4,"s":"Diab","v":1.22},{"t":5,"s":"Diab","v":1.19},{"t":6,"s":"Diab","v":1.18},{"t":7,"s":"Diab","v":1.20},{"t":8,"s":"Diab","v":1.24},{"t":9,"s":"Diab","v":1.22},{"t":10,"s":"Diab","v":1.25},{"t":11,"s":"Diab","v":1.23},{"t":12,"s":"Diab","v":1.20},{"t":13,"s":"Diab","v":1.22},{"t":14,"s":"Diab","v":1.24},{"t":15,"s":"Diab","v":1.09},{"t":16,"s":"Diab","v":1.16},{"t":17,"s":"Diab","v":1.25},{"t":18,"s":"Diab","v":1.28},{"t":19,"s":"Diab","v":1.24},{"t":20,"s":"Diab","v":1.27},{"t":21,"s":"Diab","v":1.28},{"t":22,"s":"Diab","v":1.28},{"t":23,"s":"Diab","v":1.24},{"t":24,"s":"Diab","v":1.23},{"t":25,"s":"Diab","v":1.25},{"t":26,"s":"Diab","v":1.33},
{"t":0,"s":"AED","v":0.72},{"t":1,"s":"AED","v":0.73},{"t":2,"s":"AED","v":0.73},{"t":3,"s":"AED","v":0.74},{"t":4,"s":"AED","v":0.74},{"t":5,"s":"AED","v":0.68},{"t":6,"s":"AED","v":0.67},{"t":7,"s":"AED","v":0.70},{"t":8,"s":"AED","v":0.74},{"t":9,"s":"AED","v":0.72},{"t":10,"s":"AED","v":0.71},{"t":11,"s":"AED","v":0.71},{"t":12,"s":"AED","v":0.71},{"t":13,"s":"AED","v":0.73},{"t":14,"s":"AED","v":0.72},{"t":15,"s":"AED","v":0.54},{"t":16,"s":"AED","v":0.63},{"t":17,"s":"AED","v":0.63},{"t":18,"s":"AED","v":0.65},{"t":19,"s":"AED","v":0.68},{"t":20,"s":"AED","v":0.71},{"t":21,"s":"AED","v":0.75},{"t":22,"s":"AED","v":0.74},{"t":23,"s":"AED","v":0.72},{"t":24,"s":"AED","v":0.72},{"t":25,"s":"AED","v":0.75},{"t":26,"s":"AED","v":0.82}],
"D3":[
{"t":0,"s":"Depr","v":0.60},{"t":1,"s":"Depr","v":0.62},{"t":2,"s":"Depr","v":0.64},{"t":3,"s":"Depr","v":0.62},{"t":4,"s":"Depr","v":0.60},{"t":5,"s":"Depr","v":0.59},{"t":6,"s":"Depr","v":0.55},{"t":7,"s":"Depr","v":0.57},{"t":8,"s":"Depr","v":0.59},{"t":9,"s":"Depr","v":0.61},{"t":10,"s":"Depr","v":0.58},{"t":11,"s":"Depr","v":0.57},{"t":12,"s":"Depr","v":0.61},{"t":13,"s":"Depr","v":0.62},{"t":14,"s":"Depr","v":0.64},{"t":15,"s":"Depr","v":0.61},{"t":16,"s":"Depr","v":0.60},{"t":17,"s":"Depr","v":0.57},{"t":18,"s":"Depr","v":0.57},{"t":19,"s":"Depr","v":0.57},{"t":20,"s":"Depr","v":0.62},{"t":21,"s":"Depr","v":0.60},{"t":22,"s":"Depr","v":0.61},{"t":23,"s":"Depr","v":0.60},{"t":24,"s":"Depr","v":0.62},{"t":25,"s":"Depr","v":0.66},{"t":26,"s":"Depr","v":0.68},
{"t":0,"s":"Psych","v":0.64},{"t":1,"s":"Psych","v":0.68},{"t":2,"s":"Psych","v":0.76},{"t":3,"s":"Psych","v":0.67},{"t":4,"s":"Psych","v":0.63},{"t":5,"s":"Psych","v":0.63},{"t":6,"s":"Psych","v":0.58},{"t":7,"s":"Psych","v":0.62},{"t":8,"s":"Psych","v":0.65},{"t":9,"s":"Psych","v":0.64},{"t":10,"s":"Psych","v":0.69},{"t":11,"s":"Psych","v":0.60},{"t":12,"s":"Psych","v":0.68},{"t":13,"s":"Psych","v":0.68},{"t":14,"s":"Psych","v":0.70},{"t":15,"s":"Psych","v":0.72},{"t":16,"s":"Psych","v":0.63},{"t":17,"s":"Psych","v":0.68},{"t":18,"s":"Psych","v":0.70},{"t":19,"s":"Psych","v":0.69},{"t":20,"s":"Psych","v":0.70},{"t":21,"s":"Psych","v":0.70},{"t":22,"s":"Psych","v":0.68},{"t":23,"s":"Psych","v":0.68},{"t":24,"s":"Psych","v":0.76},{"t":25,"s":"Psych","v":0.70},{"t":26,"s":"Psych","v":0.79},
{"t":0,"s":"HTN","v":0.66},{"t":1,"s":"HTN","v":0.71},{"t":2,"s":"HTN","v":0.73},{"t":3,"s":"HTN","v":0.70},{"t":4,"s":"HTN","v":0.68},{"t":5,"s":"HTN","v":0.65},{"t":6,"s":"HTN","v":0.63},{"t":7,"s":"HTN","v":0.61},{"t":8,"s":"HTN","v":0.64},{"t":9,"s":"HTN","v":0.67},{"t":10,"s":"HTN","v":0.70},{"t":11,"s":"HTN","v":0.61},{"t":12,"s":"HTN","v":0.66},{"t":13,"s":"HTN","v":0.66},{"t":14,"s":"HTN","v":0.70},{"t":15,"s":"HTN","v":0.66},{"t":16,"s":"HTN","v":0.66},{"t":17,"s":"HTN","v":0.70},{"t":18,"s":"HTN","v":0.65},{"t":19,"s":"HTN","v":0.62},{"t":20,"s":"HTN","v":0.70},{"t":21,"s":"HTN","v":0.73},{"t":22,"s":"HTN","v":0.66},{"t":23,"s":"HTN","v":0.71},{"t":24,"s":"HTN","v":0.71},{"t":25,"s":"HTN","v":0.70},{"t":26,"s":"HTN","v":0.81},
{"t":0,"s":"Diab","v":1.03},{"t":1,"s":"Diab","v":1.16},{"t":2,"s":"Diab","v":1.05},{"t":3,"s":"Diab","v":1.10},{"t":4,"s":"Diab","v":1.05},{"t":5,"s":"Diab","v":1.02},{"t":6,"s":"Diab","v":1.04},{"t":7,"s":"Diab","v":1.03},{"t":8,"s":"Diab","v":1.03},{"t":9,"s":"Diab","v":1.05},{"t":10,"s":"Diab","v":1.08},{"t":11,"s":"Diab","v":0.98},{"t":12,"s":"Diab","v":1.05},{"t":13,"s":"Diab","v":1.03},{"t":14,"s":"Diab","v":1.05},{"t":15,"s":"Diab","v":1.01},{"t":16,"s":"Diab","v":1.09},{"t":17,"s":"Diab","v":1.08},{"t":18,"s":"Diab","v":0.99},{"t":19,"s":"Diab","v":1.01},{"t":20,"s":"Diab","v":1.01},{"t":21,"s":"Diab","v":1.11},{"t":22,"s":"Diab","v":1.04},{"t":23,"s":"Diab","v":1.02},{"t":24,"s":"Diab","v":1.07},{"t":25,"s":"Diab","v":1.08},{"t":26,"s":"Diab","v":1.17},
{"t":0,"s":"AED","v":0.62},{"t":1,"s":"AED","v":0.66},{"t":2,"s":"AED","v":0.70},{"t":3,"s":"AED","v":0.65},{"t":4,"s":"AED","v":0.63},{"t":5,"s":"AED","v":0.59},{"t":6,"s":"AED","v":0.56},{"t":7,"s":"AED","v":0.59},{"t":8,"s":"AED","v":0.58},{"t":9,"s":"AED","v":0.64},{"t":10,"s":"AED","v":0.60},{"t":11,"s":"AED","v":0.58},{"t":12,"s":"AED","v":0.65},{"t":13,"s":"AED","v":0.65},{"t":14,"s":"AED","v":0.61},{"t":15,"s":"AED","v":0.56},{"t":16,"s":"AED","v":0.61},{"t":17,"s":"AED","v":0.65},{"t":18,"s":"AED","v":0.56},{"t":19,"s":"AED","v":0.57},{"t":20,"s":"AED","v":0.65},{"t":21,"s":"AED","v":0.64},{"t":22,"s":"AED","v":0.61},{"t":23,"s":"AED","v":0.62},{"t":24,"s":"AED","v":0.61},{"t":25,"s":"AED","v":0.61},{"t":26,"s":"AED","v":0.68}]
},
"spacing":-9,
"resolve":{"scale":{"color":"independent"},"legend":{"color":"independent"}},
"vconcat":[
{"title":{"text":"(A)","fontSize":18,"offset":-14},"spacing":17,"resolve":{"scale":{"color":"independent"},"legend":{"color":"independent"}},"hconcat":[
{"width":308,"height":119,"title":{"text":"Gender","dx":30,"fontSize":11.5,"offset":3},"layer":[
{"data":{"name":"A1"},"mark":{"type":"line","strokeWidth":2},"encoding":{"x":{"field":"t","type":"quantitative","scale":{"domain":[-0.5,26.5],"nice":false},"axis":{"title":null,"labelExpr":"(datum.value % 12 + 1) + '/' + (19 + floor(datum.value / 12))"}},"y":{"field":"v","type":"quantitative","scale":{"domain":[0,1.2],"nice":false},"axis":{"title":null}},"color":{"field":"s","type":"nominal","scale":{"domain":["Female","Male"],"range":["#4472C4","#ED7D31"]},"legend":{"title":null,"symbolType":"M-1,0L1,0M0.27,0A0.27,0.27,0,1,1,-0.27,0A0.27,0.27,0,1,1,0.27,0","encode":{"symbols":{"update":{"fill":{"signal":"{'Female':'#4472C4','Male':'#ED7D31','Hispanic':'#4472C4','Non-Hispanic':'#ED7D31','Asian':'#4472C4','Black':'#ED7D31','White':'#A5A5A5','Other':'#FFC000','Depr':'#4472C4','Psych':'#ED7D31','HTN':'#A5A5A5','Diab':'#FFC000','AED':'#5B9BD5'}[datum.value]"}}}}}}}},
{"data":{"name":"A1"},"mark":{"type":"point","filled":true,"size":28,"opacity":1},"encoding":{"x":{"field":"t","type":"quantitative"},"y":{"field":"v","type":"quantitative"},"color":{"field":"s","type":"nominal","legend":null}}},
{"data":{"name":"shade"},"mark":{"type":"rect","color":"#FFD966","opacity":0.3},"encoding":{"x":{"field":"a","type":"quantitative"},"x2":{"field":"b"}}},
{"data":{"name":"shade"},"transform":[{"calculate":"(datum.a+datum.b)/2","as":"c"}],"mark":{"type":"text","baseline":"bottom","fontSize":10.5,"color":"#404040"},"encoding":{"x":{"field":"c","type":"quantitative"},"y":{"datum":0.015},"text":{"field":"lab"}}},
{"data":{"values":[{}]},"mark":{"type":"rule","color":"#F08A5D","stroke":"#F08A5D","strokeDash":[2,2],"strokeWidth":1.3},"encoding":{"x":{"datum":13.8}}},
{"data":{"values":[{}]},"mark":{"type":"text","align":"left","baseline":"middle","fontWeight":"bold","fontSize":11,"color":"#000000"},"encoding":{"x":{"datum":-0.3},"y":{"datum":1.12},"text":{"value":"5-<13y"}}}
]},
{"width":308,"height":119,"title":{"text":" ","fontSize":11.5,"offset":3},"layer":[
{"data":{"name":"A2"},"mark":{"type":"line","strokeWidth":2},"encoding":{"x":{"field":"t","type":"quantitative","scale":{"domain":[-0.5,26.5],"nice":false},"axis":{"title":null,"labelExpr":"(datum.value % 12 + 1) + '/' + (19 + floor(datum.value / 12))"}},"y":{"field":"v","type":"quantitative","scale":{"domain":[0,1.2],"nice":false},"axis":{"title":null}},"color":{"field":"s","type":"nominal","scale":{"domain":["Female","Male"],"range":["#4472C4","#ED7D31"]},"legend":{"title":null,"symbolType":"M-1,0L1,0M0.27,0A0.27,0.27,0,1,1,-0.27,0A0.27,0.27,0,1,1,0.27,0","encode":{"symbols":{"update":{"fill":{"signal":"{'Female':'#4472C4','Male':'#ED7D31','Hispanic':'#4472C4','Non-Hispanic':'#ED7D31','Asian':'#4472C4','Black':'#ED7D31','White':'#A5A5A5','Other':'#FFC000','Depr':'#4472C4','Psych':'#ED7D31','HTN':'#A5A5A5','Diab':'#FFC000','AED':'#5B9BD5'}[datum.value]"}}}}}}}},
{"data":{"name":"A2"},"mark":{"type":"point","filled":true,"size":28,"opacity":1},"encoding":{"x":{"field":"t","type":"quantitative"},"y":{"field":"v","type":"quantitative"},"color":{"field":"s","type":"nominal","legend":null}}},
{"data":{"name":"shade"},"mark":{"type":"rect","color":"#FFD966","opacity":0.3},"encoding":{"x":{"field":"a","type":"quantitative"},"x2":{"field":"b"}}},
{"data":{"name":"shade"},"transform":[{"calculate":"(datum.a+datum.b)/2","as":"c"}],"mark":{"type":"text","baseline":"bottom","fontSize":10.5,"color":"#404040"},"encoding":{"x":{"field":"c","type":"quantitative"},"y":{"datum":0.015},"text":{"field":"lab"}}},
{"data":{"values":[{}]},"mark":{"type":"rule","color":"#F08A5D","stroke":"#F08A5D","strokeDash":[2,2],"strokeWidth":1.3},"encoding":{"x":{"datum":13.8}}},
{"data":{"values":[{}]},"mark":{"type":"text","align":"left","baseline":"middle","fontWeight":"bold","fontSize":11,"color":"#000000"},"encoding":{"x":{"datum":-0.3},"y":{"datum":1.12},"text":{"value":"13-<18y"}}}
]},
{"width":305,"height":119,"title":{"text":" ","fontSize":11.5,"offset":3},"layer":[
{"data":{"name":"A3"},"mark":{"type":"line","strokeWidth":2},"encoding":{"x":{"field":"t","type":"quantitative","scale":{"domain":[-0.5,26.5],"nice":false},"axis":{"title":null,"labelExpr":"(datum.value % 12 + 1) + '/' + (19 + floor(datum.value / 12))"}},"y":{"field":"v","type":"quantitative","scale":{"domain":[0,1.2],"nice":false},"axis":{"title":null}},"color":{"field":"s","type":"nominal","scale":{"domain":["Female","Male"],"range":["#4472C4","#ED7D31"]},"legend":{"title":null,"symbolType":"M-1,0L1,0M0.27,0A0.27,0.27,0,1,1,-0.27,0A0.27,0.27,0,1,1,0.27,0","encode":{"symbols":{"update":{"fill":{"signal":"{'Female':'#4472C4','Male':'#ED7D31','Hispanic':'#4472C4','Non-Hispanic':'#ED7D31','Asian':'#4472C4','Black':'#ED7D31','White':'#A5A5A5','Other':'#FFC000','Depr':'#4472C4','Psych':'#ED7D31','HTN':'#A5A5A5','Diab':'#FFC000','AED':'#5B9BD5'}[datum.value]"}}}}}}}},
{"data":{"name":"A3"},"mark":{"type":"point","filled":true,"size":28,"opacity":1},"encoding":{"x":{"field":"t","type":"quantitative"},"y":{"field":"v","type":"quantitative"},"color":{"field":"s","type":"nominal","legend":null}}},
{"data":{"name":"shade"},"mark":{"type":"rect","color":"#FFD966","opacity":0.3},"encoding":{"x":{"field":"a","type":"quantitative"},"x2":{"field":"b"}}},
{"data":{"name":"shade"},"transform":[{"calculate":"(datum.a+datum.b)/2","as":"c"}],"mark":{"type":"text","baseline":"bottom","fontSize":10.5,"color":"#404040"},"encoding":{"x":{"field":"c","type":"quantitative"},"y":{"datum":0.015},"text":{"field":"lab"}}},
{"data":{"values":[{}]},"mark":{"type":"rule","color":"#F08A5D","stroke":"#F08A5D","strokeDash":[2,2],"strokeWidth":1.3},"encoding":{"x":{"datum":13.8}}},
{"data":{"values":[{}]},"mark":{"type":"text","align":"left","baseline":"middle","fontWeight":"bold","fontSize":11,"color":"#000000"},"encoding":{"x":{"datum":-0.3},"y":{"datum":1.12},"text":{"value":"18-<20y"}}}
]}
]},
{"title":{"text":"(B)","fontSize":18,"offset":-14},"spacing":17,"resolve":{"scale":{"color":"independent"},"legend":{"color":"independent"}},"hconcat":[
{"width":308,"height":120,"title":{"text":"Ethnicity","dx":30,"fontSize":11.5,"offset":3},"layer":[
{"data":{"name":"B1"},"mark":{"type":"line","strokeWidth":2},"encoding":{"x":{"field":"t","type":"quantitative","scale":{"domain":[-0.5,26.5],"nice":false},"axis":{"title":null,"labelExpr":"(datum.value % 12 + 1) + '/' + (19 + floor(datum.value / 12))"}},"y":{"field":"v","type":"quantitative","scale":{"domain":[0,1.2],"nice":false},"axis":{"title":null}},"color":{"field":"s","type":"nominal","scale":{"domain":["Hispanic","Non-Hispanic"],"range":["#4472C4","#ED7D31"]},"legend":{"title":null,"symbolType":"M-1,0L1,0M0.27,0A0.27,0.27,0,1,1,-0.27,0A0.27,0.27,0,1,1,0.27,0","encode":{"symbols":{"update":{"fill":{"signal":"{'Female':'#4472C4','Male':'#ED7D31','Hispanic':'#4472C4','Non-Hispanic':'#ED7D31','Asian':'#4472C4','Black':'#ED7D31','White':'#A5A5A5','Other':'#FFC000','Depr':'#4472C4','Psych':'#ED7D31','HTN':'#A5A5A5','Diab':'#FFC000','AED':'#5B9BD5'}[datum.value]"}}}}}}}},
{"data":{"name":"B1"},"mark":{"type":"point","filled":true,"size":28,"opacity":1},"encoding":{"x":{"field":"t","type":"quantitative"},"y":{"field":"v","type":"quantitative"},"color":{"field":"s","type":"nominal","legend":null}}},
{"data":{"name":"shade"},"mark":{"type":"rect","color":"#FFD966","opacity":0.3},"encoding":{"x":{"field":"a","type":"quantitative"},"x2":{"field":"b"}}},
{"data":{"name":"shade"},"transform":[{"calculate":"(datum.a+datum.b)/2","as":"c"}],"mark":{"type":"text","baseline":"bottom","fontSize":10.5,"color":"#404040"},"encoding":{"x":{"field":"c","type":"quantitative"},"y":{"datum":0.015},"text":{"field":"lab"}}},
{"data":{"values":[{}]},"mark":{"type":"rule","color":"#F08A5D","stroke":"#F08A5D","strokeDash":[2,2],"strokeWidth":1.3},"encoding":{"x":{"datum":13.8}}},
{"data":{"values":[{}]},"mark":{"type":"text","align":"left","baseline":"middle","fontWeight":"bold","fontSize":11,"color":"#000000"},"encoding":{"x":{"datum":-0.3},"y":{"datum":1.12},"text":{"value":"5-<13y"}}}
]},
{"width":308,"height":120,"title":{"text":" ","fontSize":11.5,"offset":3},"layer":[
{"data":{"name":"B2"},"mark":{"type":"line","strokeWidth":2},"encoding":{"x":{"field":"t","type":"quantitative","scale":{"domain":[-0.5,26.5],"nice":false},"axis":{"title":null,"labelExpr":"(datum.value % 12 + 1) + '/' + (19 + floor(datum.value / 12))"}},"y":{"field":"v","type":"quantitative","scale":{"domain":[0,1.2],"nice":false},"axis":{"title":null}},"color":{"field":"s","type":"nominal","scale":{"domain":["Hispanic","Non-Hispanic"],"range":["#4472C4","#ED7D31"]},"legend":{"title":null,"symbolType":"M-1,0L1,0M0.27,0A0.27,0.27,0,1,1,-0.27,0A0.27,0.27,0,1,1,0.27,0","encode":{"symbols":{"update":{"fill":{"signal":"{'Female':'#4472C4','Male':'#ED7D31','Hispanic':'#4472C4','Non-Hispanic':'#ED7D31','Asian':'#4472C4','Black':'#ED7D31','White':'#A5A5A5','Other':'#FFC000','Depr':'#4472C4','Psych':'#ED7D31','HTN':'#A5A5A5','Diab':'#FFC000','AED':'#5B9BD5'}[datum.value]"}}}}}}}},
{"data":{"name":"B2"},"mark":{"type":"point","filled":true,"size":28,"opacity":1},"encoding":{"x":{"field":"t","type":"quantitative"},"y":{"field":"v","type":"quantitative"},"color":{"field":"s","type":"nominal","legend":null}}},
{"data":{"name":"shade"},"mark":{"type":"rect","color":"#FFD966","opacity":0.3},"encoding":{"x":{"field":"a","type":"quantitative"},"x2":{"field":"b"}}},
{"data":{"name":"shade"},"transform":[{"calculate":"(datum.a+datum.b)/2","as":"c"}],"mark":{"type":"text","baseline":"bottom","fontSize":10.5,"color":"#404040"},"encoding":{"x":{"field":"c","type":"quantitative"},"y":{"datum":0.015},"text":{"field":"lab"}}},
{"data":{"values":[{}]},"mark":{"type":"rule","color":"#F08A5D","stroke":"#F08A5D","strokeDash":[2,2],"strokeWidth":1.3},"encoding":{"x":{"datum":13.8}}},
{"data":{"values":[{}]},"mark":{"type":"text","align":"left","baseline":"middle","fontWeight":"bold","fontSize":11,"color":"#000000"},"encoding":{"x":{"datum":-0.3},"y":{"datum":1.12},"text":{"value":"13-<18y"}}}
]},
{"width":305,"height":120,"title":{"text":" ","fontSize":11.5,"offset":3},"layer":[
{"data":{"name":"B3"},"mark":{"type":"line","strokeWidth":2},"encoding":{"x":{"field":"t","type":"quantitative","scale":{"domain":[-0.5,26.5],"nice":false},"axis":{"title":null,"labelExpr":"(datum.value % 12 + 1) + '/' + (19 + floor(datum.value / 12))"}},"y":{"field":"v","type":"quantitative","scale":{"domain":[0,1.2],"nice":false},"axis":{"title":null}},"color":{"field":"s","type":"nominal","scale":{"domain":["Hispanic","Non-Hispanic"],"range":["#4472C4","#ED7D31"]},"legend":{"title":null,"symbolType":"M-1,0L1,0M0.27,0A0.27,0.27,0,1,1,-0.27,0A0.27,0.27,0,1,1,0.27,0","encode":{"symbols":{"update":{"fill":{"signal":"{'Female':'#4472C4','Male':'#ED7D31','Hispanic':'#4472C4','Non-Hispanic':'#ED7D31','Asian':'#4472C4','Black':'#ED7D31','White':'#A5A5A5','Other':'#FFC000','Depr':'#4472C4','Psych':'#ED7D31','HTN':'#A5A5A5','Diab':'#FFC000','AED':'#5B9BD5'}[datum.value]"}}}}}}}},
{"data":{"name":"B3"},"mark":{"type":"point","filled":true,"size":28,"opacity":1},"encoding":{"x":{"field":"t","type":"quantitative"},"y":{"field":"v","type":"quantitative"},"color":{"field":"s","type":"nominal","legend":null}}},
{"data":{"name":"shade"},"mark":{"type":"rect","color":"#FFD966","opacity":0.3},"encoding":{"x":{"field":"a","type":"quantitative"},"x2":{"field":"b"}}},
{"data":{"name":"shade"},"transform":[{"calculate":"(datum.a+datum.b)/2","as":"c"}],"mark":{"type":"text","baseline":"bottom","fontSize":10.5,"color":"#404040"},"encoding":{"x":{"field":"c","type":"quantitative"},"y":{"datum":0.015},"text":{"field":"lab"}}},
{"data":{"values":[{}]},"mark":{"type":"rule","color":"#F08A5D","stroke":"#F08A5D","strokeDash":[2,2],"strokeWidth":1.3},"encoding":{"x":{"datum":13.8}}},
{"data":{"values":[{}]},"mark":{"type":"text","align":"left","baseline":"middle","fontWeight":"bold","fontSize":11,"color":"#000000"},"encoding":{"x":{"datum":-0.3},"y":{"datum":1.12},"text":{"value":"18-<20y"}}}
]}
]},
{"spacing":3,"resolve":{"scale":{"color":"independent"},"legend":{"color":"independent"}},"vconcat":[
{"title":{"text":"(C)","fontSize":18,"offset":-14},"spacing":17,"resolve":{"scale":{"color":"independent"},"legend":{"color":"independent"}},"hconcat":[
{"width":308,"height":140,"title":{"text":"Race","dx":30,"fontSize":11.5,"offset":3},"layer":[
{"data":{"name":"C1"},"mark":{"type":"line","strokeWidth":2},"encoding":{"x":{"field":"t","type":"quantitative","scale":{"domain":[-0.5,26.5],"nice":false},"axis":{"title":null,"offset":-20,"labelExpr":"(datum.value % 12 + 1) + '/' + (19 + floor(datum.value / 12))"}},"y":{"field":"v","type":"quantitative","scale":{"domain":[-0.2,1.2],"nice":false},"axis":{"title":null}},"color":{"field":"s","type":"nominal","scale":{"domain":["Asian","Black","White","Other"],"range":["#4472C4","#ED7D31","#A5A5A5","#FFC000"]},"legend":{"title":null,"symbolType":"M-1,0L1,0M0.27,0A0.27,0.27,0,1,1,-0.27,0A0.27,0.27,0,1,1,0.27,0","encode":{"symbols":{"update":{"fill":{"signal":"{'Female':'#4472C4','Male':'#ED7D31','Hispanic':'#4472C4','Non-Hispanic':'#ED7D31','Asian':'#4472C4','Black':'#ED7D31','White':'#A5A5A5','Other':'#FFC000','Depr':'#4472C4','Psych':'#ED7D31','HTN':'#A5A5A5','Diab':'#FFC000','AED':'#5B9BD5'}[datum.value]"}}}}}}}},
{"data":{"name":"C1"},"mark":{"type":"point","filled":true,"size":28,"opacity":1},"encoding":{"x":{"field":"t","type":"quantitative"},"y":{"field":"v","type":"quantitative"},"color":{"field":"s","type":"nominal","legend":null}}},
{"data":{"name":"shade"},"mark":{"type":"rect","color":"#FFD966","opacity":0.3},"encoding":{"x":{"field":"a","type":"quantitative"},"x2":{"field":"b"},"y":{"datum":1.2},"y2":{"datum":0.01}}},
{"data":{"name":"shade"},"transform":[{"calculate":"(datum.a+datum.b)/2","as":"c"}],"mark":{"type":"text","baseline":"bottom","fontSize":10.5,"color":"#404040"},"encoding":{"x":{"field":"c","type":"quantitative"},"y":{"datum":0.02},"text":{"field":"lab"}}},
{"data":{"values":[{}]},"mark":{"type":"rule","color":"#F08A5D","stroke":"#F08A5D","strokeDash":[2,2],"strokeWidth":1.3},"encoding":{"x":{"datum":13.8},"y":{"datum":1.2},"y2":{"datum":0}}},
{"data":{"values":[{}]},"mark":{"type":"text","align":"left","baseline":"middle","fontWeight":"bold","fontSize":11,"color":"#000000"},"encoding":{"x":{"datum":-0.3},"y":{"datum":1.12},"text":{"value":"5-<13y"}}}
]},
{"width":308,"height":120,"title":{"text":" ","fontSize":11.5,"offset":3},"layer":[
{"data":{"name":"C2"},"mark":{"type":"line","strokeWidth":2},"encoding":{"x":{"field":"t","type":"quantitative","scale":{"domain":[-0.5,26.5],"nice":false},"axis":{"title":null,"labelExpr":"(datum.value % 12 + 1) + '/' + (19 + floor(datum.value / 12))"}},"y":{"field":"v","type":"quantitative","scale":{"domain":[0,1.2],"nice":false},"axis":{"title":null}},"color":{"field":"s","type":"nominal","scale":{"domain":["Asian","Black","White","Other"],"range":["#4472C4","#ED7D31","#A5A5A5","#FFC000"]},"legend":{"title":null,"symbolType":"M-1,0L1,0M0.27,0A0.27,0.27,0,1,1,-0.27,0A0.27,0.27,0,1,1,0.27,0","encode":{"symbols":{"update":{"fill":{"signal":"{'Female':'#4472C4','Male':'#ED7D31','Hispanic':'#4472C4','Non-Hispanic':'#ED7D31','Asian':'#4472C4','Black':'#ED7D31','White':'#A5A5A5','Other':'#FFC000','Depr':'#4472C4','Psych':'#ED7D31','HTN':'#A5A5A5','Diab':'#FFC000','AED':'#5B9BD5'}[datum.value]"}}}}}}}},
{"data":{"name":"C2"},"mark":{"type":"point","filled":true,"size":28,"opacity":1},"encoding":{"x":{"field":"t","type":"quantitative"},"y":{"field":"v","type":"quantitative"},"color":{"field":"s","type":"nominal","legend":null}}},
{"data":{"name":"shade"},"mark":{"type":"rect","color":"#FFD966","opacity":0.3},"encoding":{"x":{"field":"a","type":"quantitative"},"x2":{"field":"b"}}},
{"data":{"name":"shade"},"transform":[{"calculate":"(datum.a+datum.b)/2","as":"c"}],"mark":{"type":"text","baseline":"bottom","fontSize":10.5,"color":"#404040"},"encoding":{"x":{"field":"c","type":"quantitative"},"y":{"datum":0.015},"text":{"field":"lab"}}},
{"data":{"values":[{}]},"mark":{"type":"rule","color":"#F08A5D","stroke":"#F08A5D","strokeDash":[2,2],"strokeWidth":1.3},"encoding":{"x":{"datum":13.8}}},
{"data":{"values":[{}]},"mark":{"type":"text","align":"left","baseline":"middle","fontWeight":"bold","fontSize":11,"color":"#000000"},"encoding":{"x":{"datum":-0.3},"y":{"datum":1.12},"text":{"value":"13-<18y"}}}
]},
{"width":305,"height":140,"title":{"text":" ","fontSize":11.5,"offset":3},"layer":[
{"data":{"name":"C3"},"mark":{"type":"line","strokeWidth":2},"encoding":{"x":{"field":"t","type":"quantitative","scale":{"domain":[-0.5,26.5],"nice":false},"axis":{"title":null,"offset":-20,"labelExpr":"(datum.value % 12 + 1) + '/' + (19 + floor(datum.value / 12))"}},"y":{"field":"v","type":"quantitative","scale":{"domain":[-0.2,1.2],"nice":false},"axis":{"title":null}},"color":{"field":"s","type":"nominal","scale":{"domain":["Asian","Black","White","Other"],"range":["#4472C4","#ED7D31","#A5A5A5","#FFC000"]},"legend":{"title":null,"symbolType":"M-1,0L1,0M0.27,0A0.27,0.27,0,1,1,-0.27,0A0.27,0.27,0,1,1,0.27,0","encode":{"symbols":{"update":{"fill":{"signal":"{'Female':'#4472C4','Male':'#ED7D31','Hispanic':'#4472C4','Non-Hispanic':'#ED7D31','Asian':'#4472C4','Black':'#ED7D31','White':'#A5A5A5','Other':'#FFC000','Depr':'#4472C4','Psych':'#ED7D31','HTN':'#A5A5A5','Diab':'#FFC000','AED':'#5B9BD5'}[datum.value]"}}}}}}}},
{"data":{"name":"C3"},"mark":{"type":"point","filled":true,"size":28,"opacity":1},"encoding":{"x":{"field":"t","type":"quantitative"},"y":{"field":"v","type":"quantitative"},"color":{"field":"s","type":"nominal","legend":null}}},
{"data":{"name":"shade"},"mark":{"type":"rect","color":"#FFD966","opacity":0.3},"encoding":{"x":{"field":"a","type":"quantitative"},"x2":{"field":"b"},"y":{"datum":1.2},"y2":{"datum":0.01}}},
{"data":{"name":"shade"},"transform":[{"calculate":"(datum.a+datum.b)/2","as":"c"}],"mark":{"type":"text","baseline":"bottom","fontSize":10.5,"color":"#404040"},"encoding":{"x":{"field":"c","type":"quantitative"},"y":{"datum":0.02},"text":{"field":"lab"}}},
{"data":{"values":[{}]},"mark":{"type":"rule","color":"#F08A5D","stroke":"#F08A5D","strokeDash":[2,2],"strokeWidth":1.3},"encoding":{"x":{"datum":13.8},"y":{"datum":1.2},"y2":{"datum":0}}},
{"data":{"values":[{}]},"mark":{"type":"text","align":"left","baseline":"middle","fontWeight":"bold","fontSize":11,"color":"#000000"},"encoding":{"x":{"datum":-0.3},"y":{"datum":1.12},"text":{"value":"18-<20y"}}}
]}
]},
{"title":{"text":"(D)","fontSize":18,"offset":-14},"spacing":17,"resolve":{"scale":{"color":"independent"},"legend":{"color":"independent"}},"hconcat":[
{"width":308,"height":117,"title":{"text":"Medication class","dx":30,"fontSize":11.5,"offset":3},"layer":[
{"data":{"name":"D1"},"mark":{"type":"line","strokeWidth":2},"encoding":{"x":{"field":"t","type":"quantitative","scale":{"domain":[-0.5,26.5],"nice":false},"axis":{"title":null,"labelExpr":"(datum.value % 12 + 1) + '/' + (19 + floor(datum.value / 12))"}},"y":{"field":"v","type":"quantitative","scale":{"domain":[0,1.2],"nice":false},"axis":{"title":null}},"color":{"field":"s","type":"nominal","scale":{"domain":["Depr","Psych","HTN","Diab","AED"],"range":["#4472C4","#ED7D31","#A5A5A5","#FFC000","#5B9BD5"]},"legend":{"title":null,"symbolType":"M-1,0L1,0M0.27,0A0.27,0.27,0,1,1,-0.27,0A0.27,0.27,0,1,1,0.27,0","encode":{"symbols":{"update":{"fill":{"signal":"{'Female':'#4472C4','Male':'#ED7D31','Hispanic':'#4472C4','Non-Hispanic':'#ED7D31','Asian':'#4472C4','Black':'#ED7D31','White':'#A5A5A5','Other':'#FFC000','Depr':'#4472C4','Psych':'#ED7D31','HTN':'#A5A5A5','Diab':'#FFC000','AED':'#5B9BD5'}[datum.value]"}}}}}}}},
{"data":{"name":"D1"},"mark":{"type":"point","filled":true,"size":28,"opacity":1},"encoding":{"x":{"field":"t","type":"quantitative"},"y":{"field":"v","type":"quantitative"},"color":{"field":"s","type":"nominal","legend":null}}},
{"data":{"name":"shade"},"mark":{"type":"rect","color":"#FFD966","opacity":0.3},"encoding":{"x":{"field":"a","type":"quantitative"},"x2":{"field":"b"}}},
{"data":{"name":"shade"},"transform":[{"calculate":"(datum.a+datum.b)/2","as":"c"}],"mark":{"type":"text","baseline":"bottom","fontSize":10.5,"color":"#404040"},"encoding":{"x":{"field":"c","type":"quantitative"},"y":{"datum":0.015},"text":{"field":"lab"}}},
{"data":{"values":[{}]},"mark":{"type":"rule","color":"#F08A5D","stroke":"#F08A5D","strokeDash":[2,2],"strokeWidth":1.3},"encoding":{"x":{"datum":13.8}}},
{"data":{"values":[{}]},"mark":{"type":"text","align":"left","baseline":"middle","fontWeight":"bold","fontSize":11,"color":"#000000"},"encoding":{"x":{"datum":-0.3},"y":{"datum":1.12},"text":{"value":"5-<13y"}}}
]},
{"width":308,"height":117,"title":{"text":" ","fontSize":11.5,"offset":3},"layer":[
{"data":{"name":"D2"},"mark":{"type":"line","strokeWidth":2},"encoding":{"x":{"field":"t","type":"quantitative","scale":{"domain":[-0.5,26.5],"nice":false},"axis":{"title":null,"labelExpr":"(datum.value % 12 + 1) + '/' + (19 + floor(datum.value / 12))"}},"y":{"field":"v","type":"quantitative","scale":{"domain":[0.2,1.4],"nice":false},"axis":{"title":null}},"color":{"field":"s","type":"nominal","scale":{"domain":["Depr","Psych","HTN","Diab","AED"],"range":["#4472C4","#ED7D31","#A5A5A5","#FFC000","#5B9BD5"]},"legend":{"title":null,"symbolType":"M-1,0L1,0M0.27,0A0.27,0.27,0,1,1,-0.27,0A0.27,0.27,0,1,1,0.27,0","encode":{"symbols":{"update":{"fill":{"signal":"{'Female':'#4472C4','Male':'#ED7D31','Hispanic':'#4472C4','Non-Hispanic':'#ED7D31','Asian':'#4472C4','Black':'#ED7D31','White':'#A5A5A5','Other':'#FFC000','Depr':'#4472C4','Psych':'#ED7D31','HTN':'#A5A5A5','Diab':'#FFC000','AED':'#5B9BD5'}[datum.value]"}}}}}}}},
{"data":{"name":"D2"},"mark":{"type":"point","filled":true,"size":28,"opacity":1},"encoding":{"x":{"field":"t","type":"quantitative"},"y":{"field":"v","type":"quantitative"},"color":{"field":"s","type":"nominal","legend":null}}},
{"data":{"name":"shade"},"mark":{"type":"rect","color":"#FFD966","opacity":0.3},"encoding":{"x":{"field":"a","type":"quantitative"},"x2":{"field":"b"}}},
{"data":{"name":"shade"},"transform":[{"calculate":"(datum.a+datum.b)/2","as":"c"}],"mark":{"type":"text","baseline":"bottom","fontSize":10.5,"color":"#404040"},"encoding":{"x":{"field":"c","type":"quantitative"},"y":{"datum":0.215},"text":{"field":"lab"}}},
{"data":{"values":[{}]},"mark":{"type":"rule","color":"#F08A5D","stroke":"#F08A5D","strokeDash":[2,2],"strokeWidth":1.3},"encoding":{"x":{"datum":13.8}}},
{"data":{"values":[{}]},"mark":{"type":"text","align":"left","baseline":"middle","fontWeight":"bold","fontSize":11,"color":"#000000"},"encoding":{"x":{"datum":-0.3},"y":{"datum":1.32},"text":{"value":"13-<18y"}}}
]},
{"width":305,"height":117,"title":{"text":" ","fontSize":11.5,"offset":3},"layer":[
{"data":{"name":"D3"},"mark":{"type":"line","strokeWidth":2},"encoding":{"x":{"field":"t","type":"quantitative","scale":{"domain":[-0.5,26.5],"nice":false},"axis":{"title":null,"labelExpr":"(datum.value % 12 + 1) + '/' + (19 + floor(datum.value / 12))"}},"y":{"field":"v","type":"quantitative","scale":{"domain":[0,1.2],"nice":false},"axis":{"title":null}},"color":{"field":"s","type":"nominal","scale":{"domain":["Depr","Psych","HTN","Diab","AED"],"range":["#4472C4","#ED7D31","#A5A5A5","#FFC000","#5B9BD5"]},"legend":{"title":null,"symbolType":"M-1,0L1,0M0.27,0A0.27,0.27,0,1,1,-0.27,0A0.27,0.27,0,1,1,0.27,0","encode":{"symbols":{"update":{"fill":{"signal":"{'Female':'#4472C4','Male':'#ED7D31','Hispanic':'#4472C4','Non-Hispanic':'#ED7D31','Asian':'#4472C4','Black':'#ED7D31','White':'#A5A5A5','Other':'#FFC000','Depr':'#4472C4','Psych':'#ED7D31','HTN':'#A5A5A5','Diab':'#FFC000','AED':'#5B9BD5'}[datum.value]"}}}}}}}},
{"data":{"name":"D3"},"mark":{"type":"point","filled":true,"size":28,"opacity":1},"encoding":{"x":{"field":"t","type":"quantitative"},"y":{"field":"v","type":"quantitative"},"color":{"field":"s","type":"nominal","legend":null}}},
{"data":{"name":"shade"},"mark":{"type":"rect","color":"#FFD966","opacity":0.3},"encoding":{"x":{"field":"a","type":"quantitative"},"x2":{"field":"b"}}},
{"data":{"name":"shade"},"transform":[{"calculate":"(datum.a+datum.b)/2","as":"c"}],"mark":{"type":"text","baseline":"bottom","fontSize":10.5,"color":"#404040"},"encoding":{"x":{"field":"c","type":"quantitative"},"y":{"datum":0.015},"text":{"field":"lab"}}},
{"data":{"values":[{}]},"mark":{"type":"rule","color":"#F08A5D","stroke":"#F08A5D","strokeDash":[2,2],"strokeWidth":1.3},"encoding":{"x":{"datum":13.8}}},
{"data":{"values":[{}]},"mark":{"type":"text","align":"left","baseline":"middle","fontWeight":"bold","fontSize":11,"color":"#000000"},"encoding":{"x":{"datum":-0.3},"y":{"datum":1.12},"text":{"value":"18-<20y"}}}
]}
]}
]}
],
"config":{
"font":"Lato",
"view":{"stroke":null},
"axis":{"labelFont":"Lato","labelColor":"#595959","labelFontSize":9,"ticks":false,"domain":false,"gridColor":"#D9D9D9","gridWidth":1},
"axisX":{"grid":false,"domain":true,"domainColor":"#D9D9D9","labelAngle":-90,"labelPadding":3,"labelFontSize":8,"tickCount":27,"labelFlush":false},
"axisY":{"grid":true,"tickCount":7,"format":".2f","labelPadding":6},
"legend":{"orient":"bottom","direction":"horizontal","symbolSize":484,"symbolStrokeWidth":2,"labelFontSize":9.5,"labelColor":"#595959","labelFont":"Lato","columnPadding":12,"labelOffset":2,"offset":5,"layout":{"bottom":{"anchor":"middle"}}},
"title":{"font":"Lato","fontWeight":"bold","color":"#000000","anchor":"start"}
}
}
